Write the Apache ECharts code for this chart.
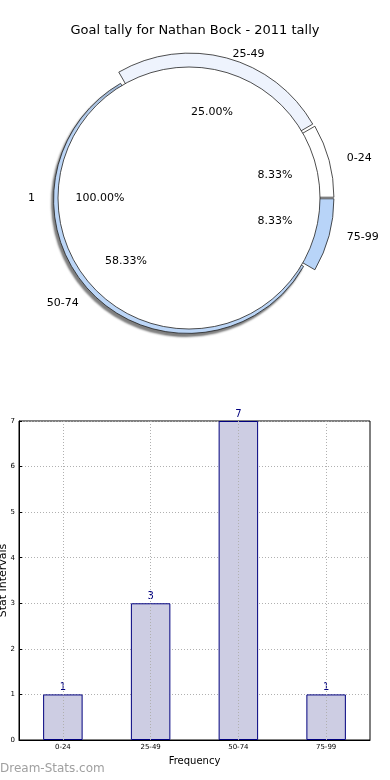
<!DOCTYPE html>
<html>
<head>
<meta charset="utf-8">
<script src="https://cdn.jsdelivr.net/npm/echarts@6/dist/echarts.min.js"></script>
<style>
html,body{margin:0;padding:0;background:#fff;}
#c{width:390px;height:780px;}
</style>
</head>
<body>
<div id="c"></div>
<script>
// ---- data ----
const titleText = 'Goal tally for Nathan Bock - 2011 tally';
const categories = ['0-24', '25-49', '50-74', '75-99'];
const pieValues = [1, 3, 7, 1];
const innerCategories = ['1'];
const innerValues = [1];
const barValues = [1, 3, 7, 1];
const yTicks = [0, 1, 2, 3, 4, 5, 6, 7];
const xAxisName = 'Frequency';
const yAxisName = 'Stat Intervals';
const watermark = 'Dream-Stats.com';

// ---- styles ----
const sliceColors = ['#ffffff', '#eef3fd', '#bcd6f7', '#b8d4f8'];
const labelLines = [[8, 5], [4, 0], [4, 0], [8, 5]];
const FONT = 'DejaVu Sans';
const CX = 189, CY = 198;
const R_IN = 131, R_OUT = 142;
const HIDDEN = 2; // index of the slice that sits mostly behind the inner pie

const total = pieValues.reduce((a, b) => a + b, 0);
const innerTotal = innerValues.reduce((a, b) => a + b, 0);
const pct = (v, t) => (v / t * 100).toFixed(2) + '%';
const clear = { color: 'rgba(0,0,0,0)', borderWidth: 0 };

const outerData = categories.map((c, i) => ({
  name: c, value: pieValues[i], selected: true,
  itemStyle: i === HIDDEN ? clear : { color: sliceColors[i] },
  labelLine: { show: false, length: labelLines[i][0], length2: labelLines[i][1] }
}));
const hiddenData = categories.map((c, i) => ({
  name: c, value: pieValues[i], selected: i === HIDDEN,
  itemStyle: i === HIDDEN
    ? { color: sliceColors[i], borderColor: '#222', borderWidth: 0.8,
        shadowColor: 'rgba(0,0,0,0.5)', shadowBlur: 2, shadowOffsetX: -2, shadowOffsetY: 3 }
    : clear
}));

const chart = echarts.init(document.getElementById('c'), null, { renderer: 'canvas' });
chart.setOption({
  backgroundColor: '#fff',
  animation: false,
  textStyle: { fontFamily: FONT },
  title: {
    text: titleText, left: 'center', top: 19,
    textStyle: { fontFamily: FONT, fontSize: 13, fontWeight: 'normal', color: '#000' }
  },
  graphic: [{
    type: 'text', left: 0, top: 763,
    style: { text: watermark, fontFamily: FONT, fontSize: 12, fontWeight: 'normal', fill: '#a0a0a0' }
  }],
  grid: { left: 19, right: 20, top: 421, bottom: 40, containLabel: false, outerBoundsMode: 'none',
    show: true, borderColor: '#000', borderWidth: 1, backgroundColor: '#fff' },
  xAxis: {
    type: 'category', data: categories,
    name: xAxisName, nameLocation: 'middle', nameGap: 16,
    nameTextStyle: { fontFamily: FONT, fontSize: 10, color: '#000' },
    axisLine: { lineStyle: { color: '#000' } },
    axisTick: { show: false },
    axisLabel: { fontFamily: FONT, fontSize: 7, color: '#000', margin: 4 },
    splitLine: { show: false }
  },
  yAxis: {
    type: 'value', min: 0, max: 7, interval: 1,
    name: yAxisName, nameLocation: 'middle', nameGap: 10, nameMoveOverlap: false,
    nameTextStyle: { fontFamily: FONT, fontSize: 11, color: '#000' },
    axisLine: { show: true, lineStyle: { color: '#000' } },
    axisTick: { show: true, inside: true, length: 3, lineStyle: { color: '#000' } },
    axisLabel: { fontFamily: FONT, fontSize: 7, color: '#000', margin: 4,
      formatter: v => yTicks.includes(v) ? String(v) : '' },
    splitLine: { show: true, lineStyle: { color: '#b0b0b0', type: [1, 2], width: 1 } }
  },
  series: [
    {
      type: 'pie', name: 'outer', center: [CX, CY], radius: [0, R_OUT],
      clockwise: false, startAngle: 0,
      selectedMode: 'multiple', selectedOffset: 3,
      data: outerData,
      itemStyle: { borderColor: '#222', borderWidth: 0.8 },
      label: { show: true, position: 'outside', fontFamily: FONT, fontSize: 11, color: '#000',
        overflow: 'none', edgeDistance: 0, formatter: p => p.name },
      labelLine: { show: false },
      labelLayout: { hideOverlap: false },
      emphasis: { disabled: true }, silent: true, z: 1
    },
    {
      type: 'pie', name: 'outerHidden', center: [CX, CY], radius: [0, R_IN + 3],
      clockwise: false, startAngle: 0,
      selectedMode: 'multiple', selectedOffset: 2,
      data: hiddenData,
      label: { show: false }, labelLine: { show: false },
      emphasis: { disabled: true }, silent: true, z: 1
    },
    {
      type: 'pie', name: 'inner', center: [CX, CY], radius: [0, R_IN],
      clockwise: false, startAngle: 0,
      data: innerCategories.map((c, i) => ({ name: c, value: innerValues[i] })),
      itemStyle: { color: '#fff', borderColor: '#222', borderWidth: 0.8 },
      label: { show: true, position: 'outside', fontFamily: FONT, fontSize: 11, color: '#000',
        overflow: 'none', formatter: p => p.name },
      labelLine: { show: false, length: 12, length2: 6 },
      emphasis: { disabled: true }, silent: true, z: 2
    },
    {
      type: 'pie', name: 'pct', center: [CX, CY], radius: [0, 172],
      clockwise: false, startAngle: 0,
      data: categories.map((c, i) => ({ name: c, value: pieValues[i] })),
      itemStyle: clear,
      label: { show: true, position: 'inside', fontFamily: FONT, fontSize: 11, color: '#000',
        formatter: p => pct(p.value, total) },
      labelLine: { show: false },
      emphasis: { disabled: true }, silent: true, z: 3
    },
    {
      type: 'pie', name: 'innerPct', center: [CX, CY], radius: [0, 172],
      clockwise: false, startAngle: 0,
      data: innerCategories.map((c, i) => ({ name: c, value: innerValues[i] })),
      itemStyle: clear,
      label: { show: true, position: 'inside', fontFamily: FONT, fontSize: 11, color: '#000',
        formatter: p => pct(p.value, innerTotal) },
      labelLine: { show: false },
      emphasis: { disabled: true }, silent: true, z: 3
    },
    {
      type: 'bar', data: barValues, barWidth: '45%',
      itemStyle: { color: '#cdcde3', borderColor: '#00007f', borderWidth: 1 },
      label: { show: true, position: 'top', distance: 2, fontFamily: FONT, fontSize: 10, color: '#00007f' },
      markLine: {
        silent: true, symbol: 'none', label: { show: false },
        lineStyle: { color: '#b0b0b0', type: [1, 2], width: 1 },
        data: categories.map(c => ({ xAxis: c }))
      },
      z: 2
    }
  ]
});
</script>
</body>
</html>
